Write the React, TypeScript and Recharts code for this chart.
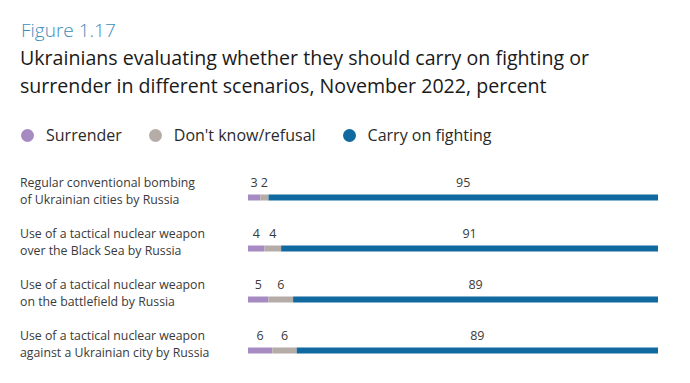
import React from "react";
import { BarChart, Bar, XAxis, YAxis, LabelList } from "recharts";

const categoryLines: string[][] = [
  ["Regular conventional bombing", "of Ukrainian cities by Russia"],
  ["Use of a tactical nuclear weapon", "over the Black Sea by Russia"],
  ["Use of a tactical nuclear weapon", "on the battlefield by Russia"],
  ["Use of a tactical nuclear weapon", "against a Ukrainian city by Russia"],
];
const surrender = [3, 4, 5, 6];
const dontKnow = [2, 4, 6, 6];
const carryOn = [95, 91, 89, 89];

const seriesNames = ["Surrender", "Don't know/refusal", "Carry on fighting"];
const seriesKeys = ["surrender", "dontKnow", "carryOn"];
const seriesColors = ["#a68bc2", "#b5aca8", "#10699f"];

const data = categoryLines.map((lines, i) => ({
  name: lines.join(" "),
  surrender: surrender[i],
  dontKnow: dontKnow[i],
  carryOn: carryOn[i],
}));

const FONT = "'Open Sans', 'Noto Sans', sans-serif";

const CategoryTick = (props: any) => {
  const { y, index } = props;
  const lines = categoryLines[index] || [];
  return (
    <g>
      {lines.map((l, k) => (
        <text
          key={k}
          x={20}
          y={y - 10 + k * 16.5}
          fontSize={12.3}
          fill="#3a3a3a"
          fontFamily={FONT}
          textAnchor="start"
        >
          {l}
        </text>
      ))}
    </g>
  );
};

const ValueLabel = (props: any) => {
  const { x, y, width, value } = props;
  return (
    <text
      x={x + width / 2}
      y={y - 8}
      fontSize={12.5}
      fill="#3a3a3a"
      fontFamily={FONT}
      textAnchor="middle"
    >
      {value}
    </text>
  );
};

const LegendBlock = () => (
  <div
    style={{
      position: "absolute",
      left: 21,
      top: 125,
      display: "flex",
      alignItems: "center",
      fontFamily: FONT,
      fontSize: 16,
      color: "#2a2a2a",
      lineHeight: "20px",
    }}
  >
    {seriesNames.map((n, i) => (
      <div key={n} style={{ display: "flex", alignItems: "center", marginRight: 27 }}>
        <span
          style={{
            display: "inline-block",
            width: 13,
            height: 13,
            borderRadius: "50%",
            background: seriesColors[i],
            marginRight: 12,
          }}
        />
        <span>{n}</span>
      </div>
    ))}
  </div>
);

export default function App() {
  return (
    <div style={{ position: "absolute", left: 0, top: 0, width: 690, height: 383, background: "#fff", fontFamily: FONT }}>
      <div style={{ position: "absolute", left: 21, top: 16, fontSize: 19, fontWeight: 300, color: "#3f8db8", lineHeight: "28px", whiteSpace: "nowrap" }}>
        Figure 1.17
      </div>
      <div style={{ position: "absolute", left: 20, top: 44, fontSize: 19.6, color: "#1a1a1a", lineHeight: "28px", width: 670 }}>
        <div style={{ whiteSpace: "nowrap" }}>Ukrainians evaluating whether they should carry on fighting or</div>
        <div style={{ whiteSpace: "nowrap" }}>surrender in different scenarios, November 2022, percent</div>
      </div>
      <LegendBlock />
      <div style={{ position: "absolute", left: 0, top: 0 }}>
        <BarChart
          width={690}
          height={383}
          data={data}
          layout="vertical"
          stackOffset="expand"
          margin={{ top: 171.5, right: 32, bottom: 7.5, left: 0 }}
        >
          <XAxis type="number" hide domain={[0, 1]} />
          <YAxis
            type="category"
            dataKey="name"
            width={248}
            axisLine={false}
            tickLine={false}
            tick={<CategoryTick />}
          />
          {seriesKeys.map((k, i) => (
            <Bar key={k} dataKey={k} name={seriesNames[i]} stackId="a" fill={seriesColors[i]} barSize={6} isAnimationActive={false}>
              <LabelList dataKey={k} content={<ValueLabel />} />
            </Bar>
          ))}
        </BarChart>
      </div>
    </div>
  );
}
